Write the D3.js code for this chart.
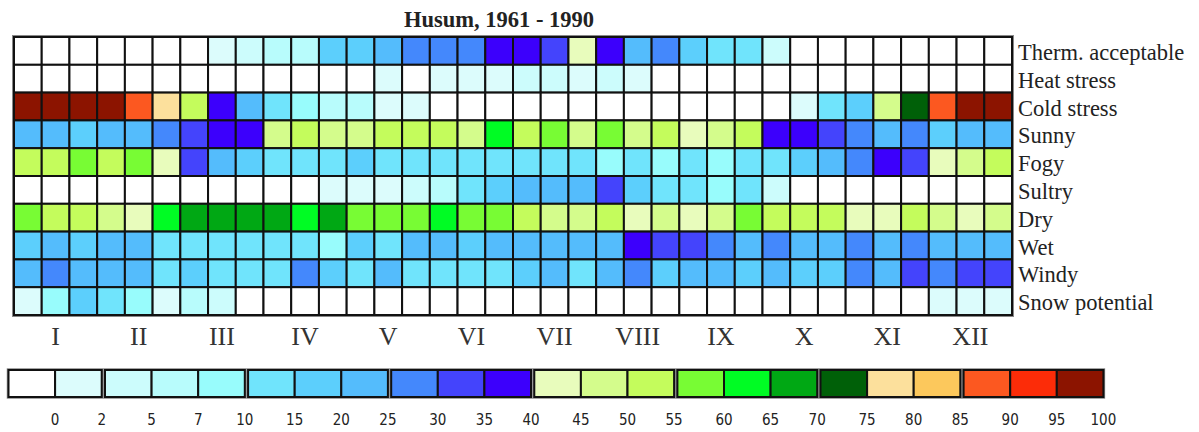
<!DOCTYPE html>
<html>
<head>
<meta charset="utf-8">
<script src="https://cdn.jsdelivr.net/npm/d3@7"></script>
<style>
  body { margin: 0; background: #fff; }
  svg { display: block; }
</style>
</head>
<body>
<div id="chart"></div>
<script>
// classes of the legend (value = upper bound of the class, in %)
const legendTicks = [0, 2, 5, 7, 10, 15, 20, 25, 30, 35, 40, 45, 50, 55, 60, 65, 70, 75, 80, 85, 90, 95, 100];
const legendColors = ["#ffffff", "#dcfcfc", "#ccfcfc", "#b8fcfc", "#98fcfc", "#70e4fc", "#5ccffc", "#54bcfc",
  "#4488fc", "#4444fc", "#3c00fc", "#e8fcbc", "#d4fc8c", "#c4fc5c", "#78fc34", "#00fc24", "#00a814",
  "#006008", "#fce09c", "#fcc85c", "#fc5820", "#fc2c08", "#8c1400"];
// legend boxes are drawn in groups
const legendGroups = [2, 3, 3, 3, 3, 3, 3, 3];

const months = ["I", "II", "III", "IV", "V", "VI", "VII", "VIII", "IX", "X", "XI", "XII"];
const rowNames = ["Therm. acceptable", "Heat stress", "Cold stress", "Sunny", "Fogy", "Sultry", "Dry", "Wet", "Windy", "Snow potential"];

// 36 decades (3 per month)
const thermAcceptable = [0,0,0,0,0,0,0,2,5,7,7,20, 20,25,30,30,30,40,40,35,45,40,25,30, 20,15,15,5,0,0,0,0,0,0,0,0];
const heatStress      = [0,0,0,0,0,0,0,0,0,0,0,0, 0,2,0,2,2,2,5,5,2,5,2,0, 0,0,0,0,0,0,0,0,0,0,0,0];
const coldStress      = [100,100,100,100,90,80,55,40,25,15,10,7, 7,2,2,0,0,0,0,0,0,0,0,0, 0,0,0,0,2,15,20,50,75,90,100,100];
const sunny           = [25,25,20,25,25,30,35,40,40,50,55,50, 50,55,55,55,50,65,55,60,50,60,50,55, 45,50,55,40,40,35,30,25,30,20,25,25];
const fogy            = [55,55,60,55,60,45,35,25,20,15,15,15, 20,15,15,15,15,15,15,15,15,10,15,10, 15,10,15,15,20,25,30,40,35,45,50,55];
const sultry          = [0,0,0,0,0,0,0,0,0,0,0,2, 2,2,5,7,15,20,25,25,25,35,20,15, 15,10,15,5,0,0,0,0,0,0,0,0];
const dry             = [60,55,55,50,45,65,70,70,70,70,65,70, 60,60,60,65,60,60,55,50,50,55,45,50, 45,50,60,55,55,55,45,45,55,50,45,50];
const wet             = [20,25,20,25,25,15,15,15,15,15,15,10, 20,15,25,25,20,25,25,25,25,25,40,35, 35,30,25,30,25,25,30,25,30,25,25,25];
const windy           = [25,30,25,25,25,15,20,15,15,15,30,20, 15,25,15,15,15,15,20,25,15,25,30,20, 25,25,20,25,20,20,30,25,35,30,35,35];
const snowPotential   = [2,10,20,15,10,2,7,5,0,0,0,0, 0,0,0,0,0,0,0,0,0,0,0,0, 0,0,0,0,0,0,0,0,0,2,2,2];

const rowValues = [thermAcceptable, heatStress, coldStress, sunny, fogy, sultry, dry, wet, windy, snowPotential];

const width = 1199, height = 432;
const gridLeft = 14, gridRight = 1012, gridTop = 37, gridBottom = 315;

const decades = d3.range(36);
const cells = [];
rowNames.forEach((r, i) => rowValues[i].forEach((v, j) => cells.push({ row: r, decade: j, value: v })));

const x = d3.scaleBand().domain(decades).range([gridLeft, gridRight]);
const y = d3.scaleBand().domain(rowNames).range([gridTop, gridBottom]);
const color = d3.scaleOrdinal(legendTicks, legendColors);

const svg = d3.select("#chart").append("svg")
  .attr("width", width)
  .attr("height", height)
  .attr("viewBox", [0, 0, width, height]);

svg.append("rect").attr("width", width).attr("height", height).attr("fill", "#fff");

// title
svg.append("text")
  .attr("x", 499)
  .attr("y", 27)
  .attr("text-anchor", "middle")
  .attr("font-family", "'Liberation Serif', 'Times New Roman', serif")
  .attr("font-weight", "bold")
  .attr("font-size", 22.5)
  .attr("fill", "#222")
  .text("Husum, 1961 - 1990");

// outer frame
svg.append("rect")
  .attr("x", gridLeft - 1).attr("y", gridTop - 1)
  .attr("width", gridRight - gridLeft + 2).attr("height", gridBottom - gridTop + 2)
  .attr("fill", "none").attr("stroke", "#888").attr("stroke-width", 2);

// cells
svg.append("g")
  .selectAll("rect")
  .data(cells)
  .join("rect")
  .attr("x", d => x(d.decade))
  .attr("y", d => y(d.row))
  .attr("width", x.bandwidth())
  .attr("height", y.bandwidth())
  .attr("fill", d => color(d.value))
  .attr("stroke", "#111")
  .attr("stroke-width", 2);

// row labels
svg.append("g")
  .selectAll("text")
  .data(rowNames)
  .join("text")
  .attr("x", gridRight + 6)
  .attr("y", d => y(d) + y.bandwidth() / 2 + 9)
  .attr("font-family", "'Liberation Serif', 'Times New Roman', serif")
  .attr("font-size", 22.5)
  .attr("fill", "#222")
  .text(d => d);

// month labels
svg.append("g")
  .selectAll("text")
  .data(months)
  .join("text")
  .attr("x", (d, i) => x(i * 3 + 1) + x.bandwidth() / 2)
  .attr("y", 345)
  .attr("text-anchor", "middle")
  .attr("font-family", "'Liberation Serif', 'Times New Roman', serif")
  .attr("font-size", 26)
  .attr("fill", "#333")
  .text(d => d);

// legend
const boxW = 46.6, gap = 3.3, legLeft = 8.5, legTop = 370, legH = 27;
const groupOf = [];
legendGroups.forEach((n, g) => { for (let k = 0; k < n; k++) groupOf.push(g); });
const lx = i => legLeft + i * boxW + groupOf[i] * gap;

const legend = svg.append("g");
let start = 0;
legendGroups.forEach(n => {
  legend.append("rect")
    .attr("x", lx(start) - 1).attr("y", legTop - 1)
    .attr("width", n * boxW + 2).attr("height", legH + 2)
    .attr("fill", "none").attr("stroke", "#888").attr("stroke-width", 1.5);
  start += n;
});

legend.selectAll("rect.box")
  .data(legendTicks)
  .join("rect")
  .attr("class", "box")
  .attr("x", (d, i) => lx(i))
  .attr("y", legTop)
  .attr("width", boxW)
  .attr("height", legH)
  .attr("fill", d => color(d))
  .attr("stroke", "#111")
  .attr("stroke-width", 2);

legend.selectAll("text")
  .data(legendTicks)
  .join("text")
  .attr("x", (d, i) => lx(i) + boxW)
  .attr("y", 425)
  .attr("text-anchor", "middle")
  .attr("font-family", "'Liberation Sans Narrow', 'DejaVu Sans Condensed', sans-serif")
  .attr("font-size", 15)
  .attr("fill", "#222")
  .text(d => d);
</script>
</body>
</html>
